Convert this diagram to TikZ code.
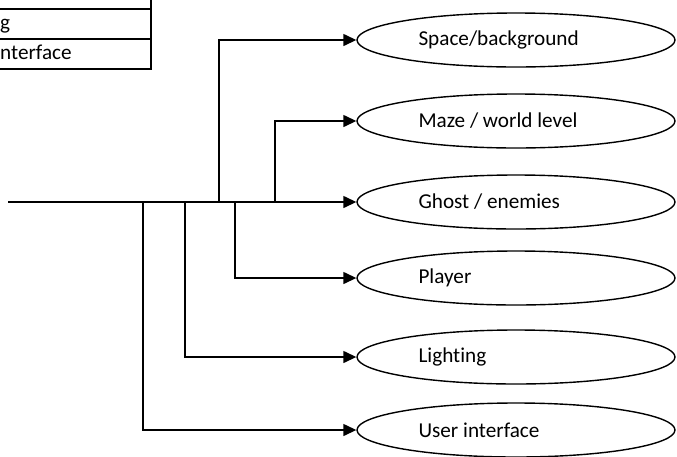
\documentclass[tikz,border=0pt]{standalone}
\usepackage{fontspec}
\setmainfont{Carlito}[Ligatures=NoCommon]
\usetikzlibrary{arrows.meta,shapes.geometric}

\begin{document}
\begin{tikzpicture}[x=1pt,y=-1pt,
  conn/.style={line width=1.4pt,-{Triangle[length=13pt,width=12pt]}},
  part/.style={ellipse,draw,line width=1.4pt,minimum width=318pt,minimum height=54pt,inner sep=0pt},
  lbl/.style={anchor=west,inner sep=0pt,font=\fontsize{21.2}{25}\selectfont},
  cell/.style={anchor=base west,inner sep=0pt,font=\fontsize{21.2}{25}\selectfont},
  grid/.style={line width=2.2pt}]
\useasboundingbox (0,0) rectangle (677,456);

% component ellipses
\node[part] (sp) at (516,40)  {};
\node[part] (mz) at (516,121) {};
\node[part] (gh) at (516,202) {};
\node[part] (pl) at (516,278) {};
\node[part] (li) at (516,357) {};
\node[part] (ui) at (516,430) {};

\node[lbl] at ([xshift=62pt]sp.west) {Space/background};
\node[lbl] at ([xshift=62pt]mz.west) {Maze / world level};
\node[lbl] at ([xshift=62pt]gh.west) {Ghost / enemies};
\node[lbl] at ([xshift=62pt]pl.west) {Player};
\node[lbl] at ([xshift=62pt]li.west) {Lighting};
\node[lbl] at ([xshift=62pt]ui.west) {User interface};

% branch points on the main line
\coordinate (src) at (8,202);
\coordinate (jui) at (143,202);
\coordinate (jli) at (185,202);
\coordinate (jsp) at (219,202);
\coordinate (jpl) at (235,202);
\coordinate (jmz) at (275,202);

\draw[conn] (src) -- (gh.west);
\draw[conn] (jui) |- (ui.west);
\draw[conn] (jli) |- (li.west);
\draw[conn] (jsp) |- (sp.west);
\draw[conn] (jpl) |- (pl.west);
\draw[conn] (jmz) |- (mz.west);

% legend table in the corner
\begin{scope}
\clip (0,0) rectangle (677,456);
\draw[grid] (0,9) -- (151,9);
\draw[grid] (0,39) -- (151,39);
\draw[grid] (0,69) -- (151,69);
\draw[grid] (151,-5) -- (151,70.1);
\node[cell] (t1) at (0,29) {g};
\node[cell] (t2) at (0,59) {nterface};
\end{scope}
\end{tikzpicture}
\end{document}
